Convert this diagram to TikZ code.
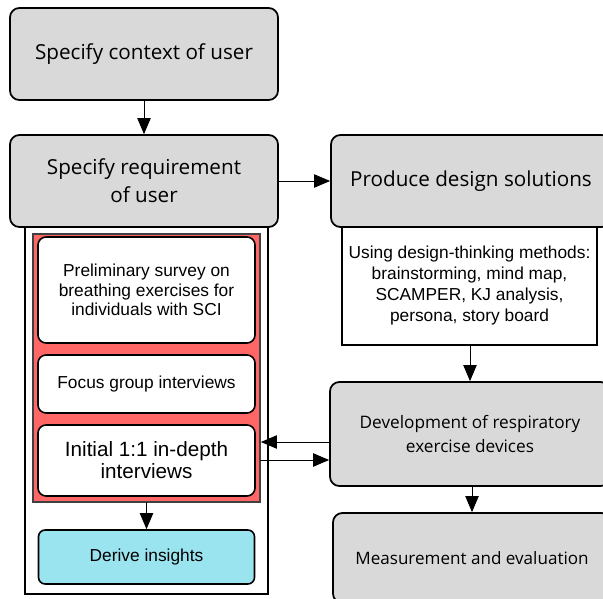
\documentclass[tikz,border=0pt]{standalone}
\usepackage{fontspec}
\setmainfont{Liberation Sans}
\newfontfamily\boxfont{Open Sans}
\usepackage{tikz}
\usetikzlibrary{arrows.meta}
\usepackage{xcolor}
\definecolor{boxgray}{HTML}{D9D9D9}
\definecolor{panelred}{HTML}{FF6666}
\definecolor{insightcyan}{HTML}{9AE4EF}

\tikzset{
  graybox/.style={draw=black,fill=boxgray,line width=1.3pt,rounded corners=7pt,
    align=center,inner sep=0pt,font=\boxfont\fontsize{15.5}{21}\selectfont},
  stepnote/.style={draw=black,fill=white,line width=1.2pt,rounded corners=6pt,
    align=center,inner sep=0pt,font=\fontsize{13}{14.5}\selectfont},
  flow/.style={->,line width=0.7pt}
}

\begin{document}
\begin{tikzpicture}[x=0.75pt,y=-0.75pt,>={Triangle[length=12pt,width=10pt]},line cap=round]
\useasboundingbox (0,0) rectangle (603,599);
% left column
\node[graybox,minimum width=201pt,minimum height=69pt] (ctx) at (144,54) {Specify context of user};
\node[graybox,minimum width=201pt,minimum height=69pt] (req) at (144,181) {Specify requirement\\of user};
\node[draw=black,fill=white,line width=1.3pt,minimum width=182.25pt,minimum height=275.25pt,inner sep=0pt] (frame) at (146.5,410.5) {};
\node[draw=black!75,fill=panelred,line width=1.3pt,minimum width=170.25pt,minimum height=201pt,inner sep=0pt] (panel) at (146.5,368) {};
\node[stepnote,minimum width=162.75pt,minimum height=79.5pt] (prelim) at (146.5,290) {Preliminary survey on\\breathing exercises for\\individuals with SCI};
\node[stepnote,minimum width=162.75pt,minimum height=43.5pt] (focus) at (146.5,384) {Focus group interviews};
\node[stepnote,minimum width=162.75pt,minimum height=53.25pt,font=\fontsize{15.5}{16.5}\selectfont] (initial) at (146.5,460.5) {Initial 1:1 in-depth\\interviews};
\node[stepnote,fill=insightcyan,rounded corners=5pt,minimum width=162pt,minimum height=40.5pt] (derive) at (146.5,557) {Derive insights};
% right column
\node[graybox,minimum width=210pt,minimum height=69pt] (prod) at (471,181) {Produce design solutions};
\node[draw=black,fill=white,line width=1.2pt,align=center,inner sep=0pt,minimum width=191.25pt,minimum height=88.5pt,font=\fontsize{13}{15.75}\selectfont] (design) at (469.5,286) {Using design-thinking methods:\\brainstorming, mind map,\\SCAMPER, KJ analysis,\\persona, story board};
\node[graybox,minimum width=210pt,minimum height=78pt,font=\boxfont\fontsize{12.9}{18}\selectfont] (dev) at (470,434) {Development of respiratory\\exercise devices};
\node[graybox,minimum width=208.5pt,minimum height=67.5pt,font=\boxfont\fontsize{12.8}{18}\selectfont] (meas) at (472,558) {Measurement and evaluation};
% connectors
\draw[flow] (ctx) -- (req);
\draw[flow] (req.east) -- (prod.west|-req.east);
\draw[flow] (design.south-|dev.north) -- (dev.north);
\draw[flow] ([yshift=-6pt]dev.west) -- ([yshift=-6pt]panel.east|-dev.west);
\draw[flow] ([yshift=-19.5pt]panel.east|-dev.west) -- ([yshift=-19.5pt]dev.west);
\draw[flow] (panel.south) -- (derive.north);
\draw[flow] (dev.south-|meas.north) -- (meas.north);
\end{tikzpicture}
\end{document}
